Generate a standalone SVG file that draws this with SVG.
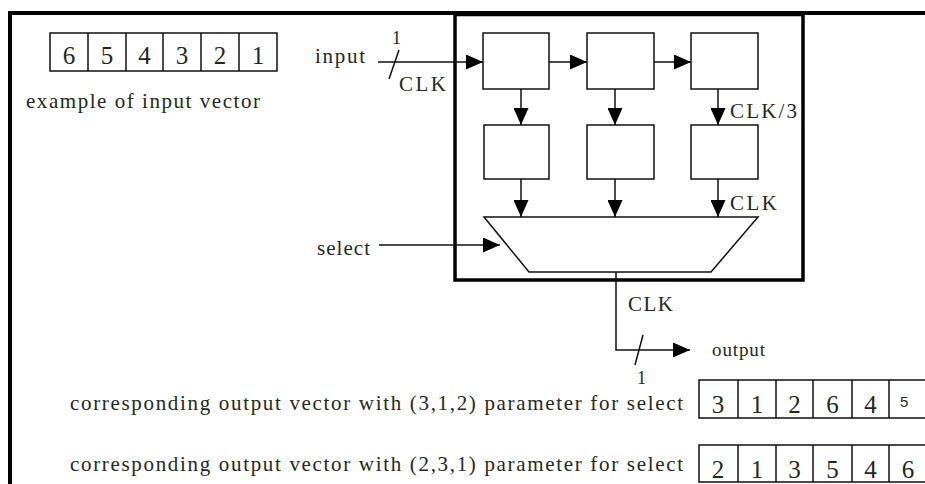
<svg xmlns="http://www.w3.org/2000/svg" width="925" height="484" viewBox="0 0 925 484">
<style>
  .t { font-family: "Liberation Serif", "DejaVu Serif", serif; fill: #1e2a1e; }
  .lbl { font-size: 21px; }
  .dig { font-size: 25px; text-anchor: middle; }
  .box { fill: #fff; stroke: #111; stroke-width: 1.5; }
  .cell { fill: none; stroke: #111; stroke-width: 1.5; }
  .wire { fill: none; stroke: #111; stroke-width: 1.5; }
</style>
<defs>
  <marker id="ah" viewBox="0 0 17 15" refX="17" refY="7.5" markerWidth="17" markerHeight="15" markerUnits="userSpaceOnUse" orient="auto">
    <path d="M0,0 L17,7.5 L0,15 Z" fill="#000"/>
  </marker>
</defs>
<rect width="925" height="484" fill="#fff"/>

<!-- frame -->
<g id="frame">
  <line x1="8" y1="13" x2="925" y2="13" stroke="#000" stroke-width="4"/>
  <line x1="10" y1="11" x2="10" y2="484" stroke="#000" stroke-width="4"/>
</g>

<!-- input vector -->
<g id="input-vector">
  <rect class="cell" x="50" y="33" width="227" height="38"/>
  <line class="cell" x1="88" y1="33" x2="88" y2="71"/>
  <line class="cell" x1="126" y1="33" x2="126" y2="71"/>
  <line class="cell" x1="163" y1="33" x2="163" y2="71"/>
  <line class="cell" x1="201" y1="33" x2="201" y2="71"/>
  <line class="cell" x1="239" y1="33" x2="239" y2="71"/>
  <text class="t dig" x="69" y="64">6</text>
  <text class="t dig" x="107" y="64">5</text>
  <text class="t dig" x="144.5" y="64">4</text>
  <text class="t dig" x="182" y="64">3</text>
  <text class="t dig" x="220" y="64">2</text>
  <text class="t dig" x="258" y="64">1</text>
  <text class="t lbl" x="26" y="108" textLength="234" lengthAdjust="spacing">example of input vector</text>
</g>

<!-- main block -->
<g id="block">
  <rect x="455" y="14.5" width="348" height="265.5" fill="none" stroke="#000" stroke-width="3.5"/>
</g>

<g id="reg1"><rect class="box" x="483" y="33" width="66" height="56"/></g>
<g id="reg2"><rect class="box" x="587" y="33" width="67" height="56"/></g>
<g id="reg3"><rect class="box" x="691" y="33" width="67" height="56"/></g>
<g id="reg4"><rect class="box" x="484" y="125" width="65" height="54"/></g>
<g id="reg5"><rect class="box" x="587" y="125" width="67" height="54"/></g>
<g id="reg6"><rect class="box" x="691" y="125" width="67" height="54"/></g>

<g id="mux">
  <polygon points="484,217 758,217 711,272 529,272" fill="#fff" stroke="#111" stroke-width="1.5"/>
</g>

<!-- connectors -->
<g id="connectors">
  <line class="wire" x1="378" y1="62" x2="483" y2="62" marker-end="url(#ah)"/>
  <line class="wire" x1="399" y1="50" x2="389" y2="79"/>
  <line class="wire" x1="549" y1="62" x2="587" y2="62" marker-end="url(#ah)"/>
  <line class="wire" x1="654" y1="62" x2="691" y2="62" marker-end="url(#ah)"/>
  <line class="wire" x1="521" y1="89" x2="521" y2="125" marker-end="url(#ah)"/>
  <line class="wire" x1="615" y1="89" x2="615" y2="125" marker-end="url(#ah)"/>
  <line class="wire" x1="718" y1="89" x2="718" y2="125" marker-end="url(#ah)"/>
  <line class="wire" x1="521" y1="179" x2="521" y2="217" marker-end="url(#ah)"/>
  <line class="wire" x1="615" y1="179" x2="615" y2="217" marker-end="url(#ah)"/>
  <line class="wire" x1="718" y1="179" x2="718" y2="217" marker-end="url(#ah)"/>
  <line class="wire" x1="379" y1="245" x2="500" y2="245" marker-end="url(#ah)"/>
  <polyline class="wire" points="616,272 616,350 690,350" marker-end="url(#ah)"/>
  <line class="wire" x1="643" y1="335" x2="635" y2="365"/>
</g>

<!-- labels -->
<g id="labels">
  <text class="t lbl" x="315" y="63" textLength="50" lengthAdjust="spacing">input</text>
  <text class="t" x="392" y="44" font-size="18">1</text>
  <text class="t lbl" x="399" y="91" textLength="47" lengthAdjust="spacing">CLK</text>
  <text class="t lbl" x="730" y="118" textLength="67" lengthAdjust="spacing">CLK/3</text>
  <text class="t lbl" x="730" y="210" textLength="47" lengthAdjust="spacing">CLK</text>
  <text class="t lbl" x="317" y="255" textLength="53" lengthAdjust="spacing">select</text>
  <text class="t lbl" x="628" y="311" textLength="45" lengthAdjust="spacing">CLK</text>
  <text class="t" x="712" y="356" font-size="19" textLength="53" lengthAdjust="spacing">output</text>
  <text class="t" x="637" y="384" font-size="18">1</text>
</g>

<!-- output vectors -->
<g id="output-vector-1">
  <text class="t lbl" x="70" y="410" textLength="613" lengthAdjust="spacing">corresponding output vector with (3,1,2) parameter for select</text>
  <rect class="cell" x="699" y="380" width="240" height="38"/>
  <line class="cell" x1="738" y1="380" x2="738" y2="418"/>
  <line class="cell" x1="776" y1="380" x2="776" y2="418"/>
  <line class="cell" x1="813" y1="380" x2="813" y2="418"/>
  <line class="cell" x1="852" y1="380" x2="852" y2="418"/>
  <line class="cell" x1="889" y1="380" x2="889" y2="418"/>
  <text class="t dig" x="718" y="413">3</text>
  <text class="t dig" x="757" y="413">1</text>
  <text class="t dig" x="794.5" y="413">2</text>
  <text class="t dig" x="832.5" y="413">6</text>
  <text class="t dig" x="870.5" y="413">4</text>
  <text x="900" y="407" font-family="'Liberation Sans', 'DejaVu Sans', sans-serif" font-size="15" fill="#1e2a1e">5</text>
</g>
<g id="output-vector-2">
  <text class="t lbl" x="70" y="471" textLength="613" lengthAdjust="spacing">corresponding output vector with (2,3,1) parameter for select</text>
  <rect class="cell" x="699" y="445" width="240" height="37"/>
  <line class="cell" x1="738" y1="445" x2="738" y2="482"/>
  <line class="cell" x1="776" y1="445" x2="776" y2="482"/>
  <line class="cell" x1="813" y1="445" x2="813" y2="482"/>
  <line class="cell" x1="852" y1="445" x2="852" y2="482"/>
  <line class="cell" x1="889" y1="445" x2="889" y2="482"/>
  <text class="t dig" x="718" y="478">2</text>
  <text class="t dig" x="757" y="478">1</text>
  <text class="t dig" x="794.5" y="478">3</text>
  <text class="t dig" x="832.5" y="478">5</text>
  <text class="t dig" x="870.5" y="478">4</text>
  <text class="t dig" x="908" y="478">6</text>
</g>
</svg>
